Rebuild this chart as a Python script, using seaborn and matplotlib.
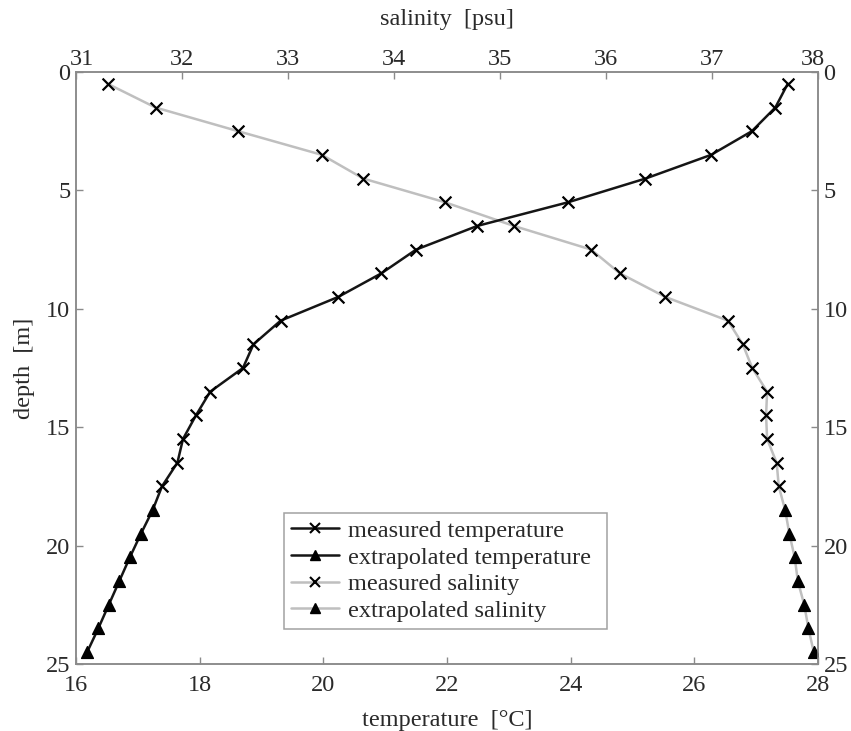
import numpy as np
import pandas as pd
import matplotlib
matplotlib.use("Agg")
import matplotlib.pyplot as plt
from matplotlib.lines import Line2D
from matplotlib.transforms import ScaledTranslation
import seaborn as sns

# Depth profile (m) and measured/extrapolated parts
depth = [0.5, 1.5, 2.5, 3.5, 4.5, 5.5, 6.5, 7.5, 8.5, 9.5, 10.5, 11.5, 12.5,
         13.5, 14.5, 15.5, 16.5, 17.5, 18.5, 19.5, 20.5, 21.5, 22.5, 23.5, 24.5]
n_measured = 18

temperature = [27.51, 27.31, 26.93, 26.27, 25.21, 23.96, 22.49, 21.50, 20.94,
               20.24, 19.31, 18.87, 18.70, 18.17, 17.94, 17.73, 17.64, 17.39,
               17.24, 17.05, 16.87, 16.70, 16.53, 16.36, 16.18]
salinity = [31.30, 31.75, 32.53, 33.32, 33.71, 34.48, 35.13, 35.86, 36.13,
            36.56, 37.15, 37.29, 37.38, 37.52, 37.51, 37.52, 37.61, 37.63,
            37.69, 37.73, 37.78, 37.81, 37.87, 37.91, 37.96]

temp_ticks = [16, 18, 20, 22, 24, 26, 28]
sal_ticks = [31, 32, 33, 34, 35, 36, 37, 38]
depth_ticks = [0, 5, 10, 15, 20, 25]

legend_labels = ["measured temperature", "extrapolated temperature",
                 "measured salinity", "extrapolated salinity"]

df = pd.DataFrame({"depth": depth, "temperature": temperature, "salinity": salinity})
df["kind"] = ["measured"] * n_measured + ["extrapolated"] * (len(depth) - n_measured)
meas = df[df["kind"] == "measured"]
extr = df[df["kind"] == "extrapolated"]

sns.set_style("white")
plt.rcParams["font.family"] = ["Liberation Serif", "DejaVu Serif"]
FS = 17.5
TXT_C = "#2a2a2a"

fig = plt.figure(figsize=(8.51, 7.31), dpi=100)
ax = fig.add_axes([76 / 851, 1 - 664 / 731, 742 / 851, 592 / 731])
ax2 = ax.twiny()

TEMP_C = "#151515"
SAL_C = "#bfbfbf"
LW = 1.8
X_SIZE = 8.5
TRI_SIZE = 8.5

def draw_profile(axis, col, line_color):
    sns.lineplot(data=df, x=col, y="depth", orient="y", color=line_color,
                 linewidth=LW, ax=axis, legend=False)
    sns.scatterplot(data=meas, x=col, y="depth", marker="x", color="black",
                    s=X_SIZE ** 2, linewidth=1.6, ax=axis, legend=False, zorder=3)
    sns.scatterplot(data=extr, x=col, y="depth", marker="^", color="black",
                    edgecolor="black", s=TRI_SIZE ** 2, linewidth=1.0, ax=axis,
                    legend=False, zorder=3)

# salinity on the top axis, temperature on the bottom axis (drawn above)
draw_profile(ax2, "salinity", SAL_C)
draw_profile(ax, "temperature", TEMP_C)

ax.set_zorder(ax2.get_zorder() + 1)
ax.patch.set_visible(False)

ax.set_xlim(16, 28)
ax2.set_xlim(31, 38)
ax.set_ylim(25, 0)

ax.set_xticks(temp_ticks)
ax2.set_xticks(sal_ticks)
ax.set_yticks(depth_ticks)

SPINE_C = "#8a8a8a"
for a in (ax, ax2):
    for s in a.spines.values():
        s.set_visible(True)
        s.set_color(SPINE_C)
        s.set_linewidth(1.1)

ax.tick_params(axis="x", direction="in", length=5, width=1, color=SPINE_C,
               labelsize=FS, pad=8, labelcolor=TXT_C)
ax.tick_params(axis="y", direction="in", length=5, width=1, color=SPINE_C,
               labelsize=FS, pad=4, labelcolor=TXT_C,
               left=True, right=True, labelleft=True, labelright=True)
ax2.tick_params(axis="x", direction="in", length=5, width=1, color=SPINE_C,
                labelsize=FS, pad=1.5, labelcolor=TXT_C)
ax2.tick_params(axis="y", left=False, right=False, labelleft=False, labelright=False)

# nudge the corner salinity labels away from the depth labels
top_ticks = ax2.xaxis.get_major_ticks()
for tick, dx in ((top_ticks[0], 6), (top_ticks[-1], -5)):
    lbl = tick.label2
    lbl.set_transform(lbl.get_transform() +
                      ScaledTranslation(dx / 100, 0, fig.dpi_scale_trans))

ax.set_xlabel("temperature  [°C]", fontsize=FS, color=TXT_C, labelpad=10)
ax.set_ylabel("depth  [m]", fontsize=FS, color=TXT_C, labelpad=8)
ax2.set_xlabel("salinity  [psu]", fontsize=FS, color=TXT_C, labelpad=17)

handles = [
    Line2D([], [], color=TEMP_C, lw=LW, marker="x", ms=7, mew=1.5, mec="black"),
    Line2D([], [], color=TEMP_C, lw=LW, marker="^", ms=7, mfc="black", mec="black"),
    Line2D([], [], color=SAL_C, lw=LW, marker="x", ms=7, mew=1.5, mec="black"),
    Line2D([], [], color=SAL_C, lw=LW, marker="^", ms=7, mfc="black", mec="black"),
]
leg = ax.legend(handles, legend_labels, loc="lower left",
                bbox_to_anchor=(0.2803, 0.059, 0.4353, 0.2), mode="expand",
                fontsize=FS, frameon=True, fancybox=False, edgecolor=SPINE_C,
                handlelength=1.95, handletextpad=0.37, borderpad=0.3,
                labelspacing=0.19, borderaxespad=0)
leg.get_frame().set_linewidth(1.1)
for t in leg.get_texts():
    t.set_color(TXT_C)

fig.savefig("out.png", dpi=100, facecolor="white")
